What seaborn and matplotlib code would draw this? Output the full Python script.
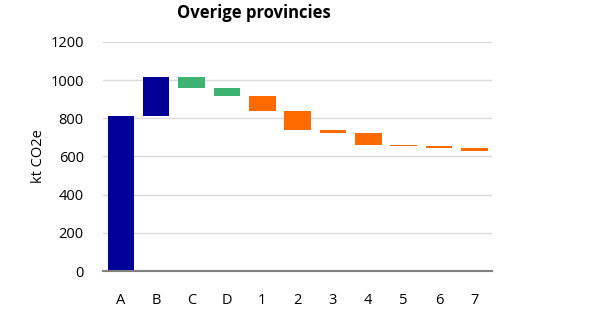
import matplotlib
matplotlib.use("Agg")
import matplotlib.pyplot as plt
import seaborn as sns
import pandas as pd
import numpy as np

# Waterfall: start value, additions and reductions (kt CO2e)
categories = ["A", "B", "C", "D", "1", "2", "3", "4", "5", "6", "7"]
changes = [810, 205, -55, -42, -80, -98, -18, -64, -4, -10, -16]
kinds = ["total", "total", "green", "green", "orange", "orange", "orange",
         "orange", "orange", "orange", "orange"]
y_ticks = [0, 200, 400, 600, 800, 1000, 1200]
title = "Overige provincies"
y_label = "kt CO2e"

palette = {"total": "#000099", "green": "#3CB371", "orange": "#FF6A00"}

sns.set_theme(style="white")
plt.rcParams["font.family"] = ["Open Sans", "DejaVu Sans"]

ends = np.cumsum(changes)
starts = ends - np.array(changes)
low = np.minimum(starts, ends)
high = np.maximum(starts, ends)

df = pd.DataFrame({"cat": categories, "size": high - low, "kind": kinds})

fig = plt.figure(figsize=(6.0, 3.22), dpi=100)
ax = fig.add_axes([0.172, 0.158, 0.648, 0.712])

sns.barplot(data=df, x="cat", y="size", hue="kind", palette=palette,
            dodge=False, width=0.75, legend=False, ax=ax,
            order=categories, saturation=1, linewidth=0)

# lift each floating bar to its running-total base
for p in ax.patches:
    idx = int(round(p.get_x() + p.get_width() / 2))
    p.set_y(low[idx])

ax.set_ylim(0, 1200)
ax.set_xlim(-0.5, len(categories) - 0.5)
ax.set_yticks(y_ticks)
ax.yaxis.grid(True, color="#D9D9D9", linewidth=1)
ax.set_axisbelow(True)
for s in ["top", "right", "left"]:
    ax.spines[s].set_visible(False)
ax.spines["bottom"].set_color("#808080")
ax.spines["bottom"].set_linewidth(1.5)
ax.tick_params(axis="y", length=0, pad=14, labelsize=10.5, labelcolor="#000000")
ax.tick_params(axis="x", length=0, pad=16, labelsize=10.5, labelcolor="#000000")
ax.set_xlabel("")
ax.set_ylabel(y_label, fontsize=10.5, labelpad=3, color="#000000")

fig.text(254 / 600, 1 - 13 / 322, title, ha="center", va="center",
         fontsize=12, fontweight="bold", color="#000000")

fig.savefig("out.png", dpi=100, facecolor="white")
